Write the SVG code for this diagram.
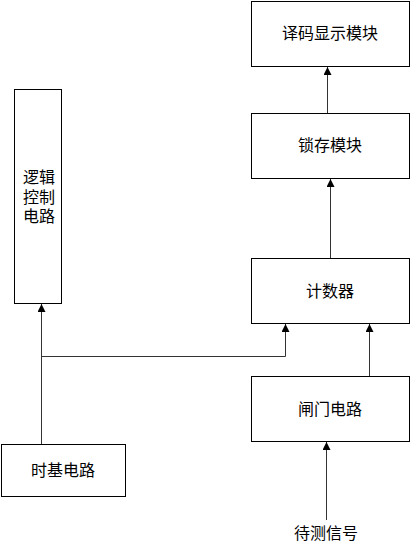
<svg xmlns="http://www.w3.org/2000/svg" width="412" height="557" viewBox="0 0 412 557">
<style>
.box{fill:#fff;stroke:#000;stroke-width:1}
.t{font-family:"Liberation Sans","Noto Sans CJK SC",sans-serif;font-size:16px;fill:#000;text-anchor:middle;dominant-baseline:central}
.ln{fill:none;stroke:#333;stroke-width:1}
</style>
<defs>
<marker id="arr" markerWidth="8" markerHeight="8" refX="8" refY="4" orient="auto" markerUnits="userSpaceOnUse">
<path d="M0,0 L8,4 L0,8 Z" fill="#000"/>
</marker>
</defs>
<g id="decode"><rect class="box" x="251.5" y="1.5" width="158" height="65"/><text class="t" x="330" y="33">译码显示模块</text></g>
<g id="latch"><rect class="box" x="251.5" y="113.5" width="158" height="65"/><text class="t" x="330" y="145">锁存模块</text></g>
<g id="counter"><rect class="box" x="251.5" y="258.5" width="158" height="65"/><text class="t" x="330" y="291">计数器</text></g>
<g id="gate"><rect class="box" x="251.5" y="376.5" width="158" height="65"/><text class="t" x="330" y="409">闸门电路</text></g>
<g id="logic"><rect class="box" x="14.5" y="89.5" width="47" height="214"/><text class="t" x="39" y="177">逻辑</text><text class="t" x="39" y="197">控制</text><text class="t" x="39" y="216">电路</text></g>
<g id="timebase"><rect class="box" x="1.5" y="444.5" width="124" height="52"/><text class="t" x="63" y="470">时基电路</text></g>
<g id="signal"><text class="t" x="326" y="533">待测信号</text></g>
<g id="connectors">
<path class="ln" d="M327.5,113 V67" marker-end="url(#arr)"/>
<path class="ln" d="M330.5,258 V179" marker-end="url(#arr)"/>
<path class="ln" d="M369.5,376 V324" marker-end="url(#arr)"/>
<path class="ln" d="M326.5,520 V442" marker-end="url(#arr)"/>
<path class="ln" d="M41.5,444 V304" marker-end="url(#arr)"/>
<path class="ln" d="M41.5,356.5 H285.5 V324" marker-end="url(#arr)"/>
</g>
</svg>
